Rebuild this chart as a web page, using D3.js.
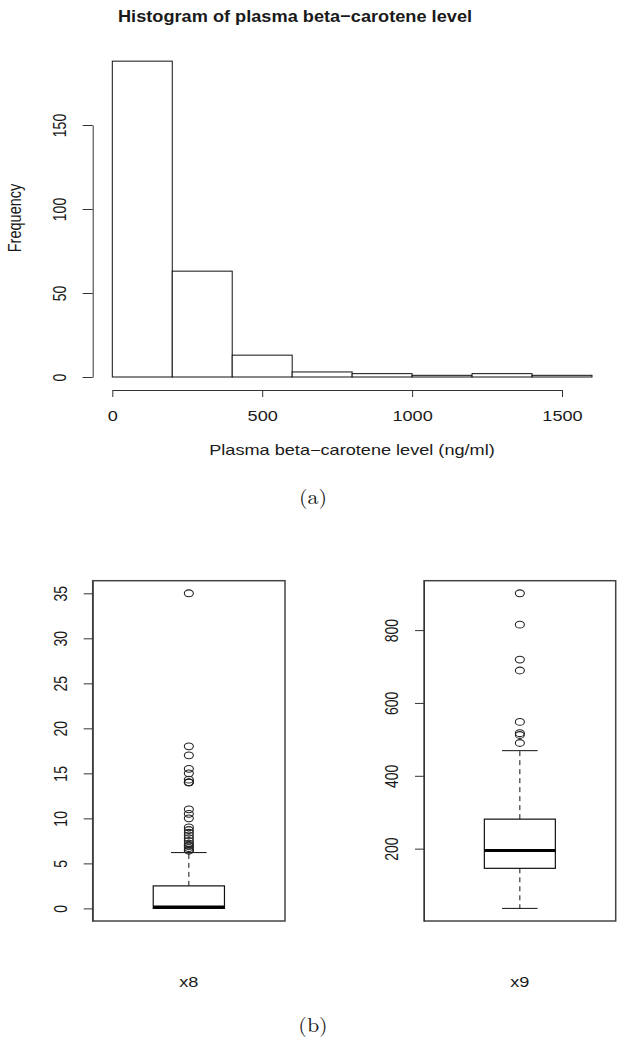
<!DOCTYPE html>
<html>
<head>
<meta charset="utf-8">
<script src="https://cdn.jsdelivr.net/npm/d3@7"></script>
<style>
  body { margin: 0; background: #fff; }
  svg text { font-family: "Liberation Sans", Arial, sans-serif; fill: #1a1a1a; }
</style>
</head>
<body>
<div id="chart"></div>
<script>
// histogram data (200 ng/ml bins)
const binEdges = [0, 200, 400, 600, 800, 1000, 1200, 1400, 1600];
const binCounts = [188, 63, 13, 3, 2, 1, 2, 1];
const histXTicks = [0, 500, 1000, 1500];
const histYTicks = [0, 50, 100, 150];

// boxplots: [lower whisker, Q1, median, Q3, upper whisker]
const boxNames = ["x8", "x9"];
const x8Box = [0, 0, 0.15, 2.5, 6.2];
const x8Outliers = [35, 18, 17, 15.5, 15, 14.3, 14, 14, 14, 11, 10.5, 10, 9, 8.7, 8.4, 8.1, 7.8, 7.5, 7.2, 7, 6.9, 6.7, 6.5, 6.4];
const x8Ticks = [0, 5, 10, 15, 20, 25, 30, 35];
const x9Box = [36, 146, 195, 281, 469];
const x9Outliers = [490, 512, 517, 548, 689, 719, 815, 901];
const x9Ticks = [200, 400, 600, 800];

const W = 627, H = 1047;
const SX = 1.25; // the picture is stretched horizontally, so is the text
const FS = 14.5;

const svg = d3.select("#chart").append("svg")
  .attr("width", W).attr("height", H);

function label(x, y, str, opts) {
  opts = opts || {};
  const t = svg.append("text")
    .attr("transform", `translate(${x},${y}) scale(${opts.sx || SX},1)` + (opts.rot ? " rotate(-90)" : ""))
    .attr("text-anchor", "middle")
    .style("font-size", (opts.size || FS) + "px")
    .text(str);
  if (opts.bold) t.style("font-weight", "bold");
  if (opts.serif) t.style("font-family", "'Latin Modern Roman', 'DejaVu Serif', 'Liberation Serif', serif");
  return t;
}

function styleLeftAxis(g, off) {
  g.select(".domain").attr("stroke", "#333");
  g.selectAll(".tick line").attr("stroke", "#333");
  g.selectAll(".tick text")
    .attr("x", null).attr("dy", null)
    .attr("text-anchor", "middle")
    .attr("transform", `translate(${off},0) scale(1.3,1) rotate(-90)`)
    .style("font-size", "14px");
}

// ---------- (a) histogram ----------
const hx = d3.scaleLinear().domain([0, 1500]).range([112.3, 562]);
const hy = d3.scaleLinear().domain([0, 150]).range([377, 125]);

svg.append("g").selectAll("rect")
  .data(binCounts)
  .join("rect")
  .attr("x", (d, i) => hx(binEdges[i]))
  .attr("width", (d, i) => hx(binEdges[i + 1]) - hx(binEdges[i]))
  .attr("y", d => hy(d))
  .attr("height", d => hy(0) - hy(d))
  .attr("fill", "#fff")
  .attr("stroke", "#111")
  .attr("stroke-width", 1);

const hxAxis = svg.append("g")
  .attr("transform", "translate(0,390)")
  .call(d3.axisBottom(hx).tickValues(histXTicks).tickFormat(d3.format("d")).tickSize(7).tickSizeOuter(0));
hxAxis.select(".domain").attr("stroke", "#333");
hxAxis.selectAll(".tick line").attr("stroke", "#333");
hxAxis.selectAll(".tick text")
  .attr("y", 31).attr("dy", null)
  .attr("transform", `scale(${SX},1)`)
  .style("font-size", FS + "px");

const hyAxis = svg.append("g")
  .attr("transform", "translate(92.7,0)")
  .call(d3.axisLeft(hy).tickValues(histYTicks).tickSize(10).tickSizeOuter(0));
styleLeftAxis(hyAxis, -27);

label(295, 22, "Histogram of plasma beta\u2212carotene level", { bold: true, size: 17, sx: 1.07 });
label(352, 455, "Plasma beta\u2212carotene level (ng/ml)");
label(20.5, 218, "Frequency", { rot: true });
label(313, 504, "(a)", { serif: true, size: 20, sx: 1.1 });

// ---------- (b) boxplots ----------
const frameTop = 580.7, frameBottom = 921;
const panels = [
  { name: boxNames[0], stats: x8Box, out: x8Outliers, ticks: x8Ticks, left: 92.7, right: 285 },
  { name: boxNames[1], stats: x9Box, out: x9Outliers, ticks: x9Ticks, left: 424, right: 615.7 }
];

panels.forEach(p => {
  const lo = d3.min([p.stats[0], ...p.out]), hi = d3.max([p.stats[4], ...p.out]);
  const pad = (hi - lo) * 0.04;
  const y = d3.scaleLinear().domain([lo - pad, hi + pad]).range([frameBottom, frameTop]);
  const x = d3.scaleLinear().domain([0.46, 1.54]).range([p.left, p.right]);
  const g = svg.append("g");

  // frame
  g.append("rect")
    .attr("x", p.left).attr("y", frameTop)
    .attr("width", p.right - p.left).attr("height", frameBottom - frameTop)
    .attr("fill", "none").attr("stroke", "#444").attr("stroke-width", 1.5);

  const [wLo, q1, med, q3, wHi] = p.stats;
  // whiskers
  g.append("line").attr("x1", x(1)).attr("x2", x(1)).attr("y1", y(q3)).attr("y2", y(wHi))
    .attr("stroke", "#111").attr("stroke-dasharray", "5,4");
  g.append("line").attr("x1", x(1)).attr("x2", x(1)).attr("y1", y(q1)).attr("y2", y(wLo))
    .attr("stroke", "#111").attr("stroke-dasharray", "5,4");
  [wLo, wHi].forEach(v => {
    g.append("line").attr("x1", x(0.9)).attr("x2", x(1.1)).attr("y1", y(v)).attr("y2", y(v))
      .attr("stroke", "#111");
  });
  // box
  g.append("rect")
    .attr("x", x(0.8)).attr("width", x(1.2) - x(0.8))
    .attr("y", y(q3)).attr("height", y(q1) - y(q3))
    .attr("fill", "#fff").attr("stroke", "#111").attr("stroke-width", 1.2);
  g.append("line").attr("x1", x(0.8)).attr("x2", x(1.2)).attr("y1", y(med)).attr("y2", y(med))
    .attr("stroke", "#000").attr("stroke-width", 3);

  // outliers
  g.selectAll("ellipse").data(p.out).join("ellipse")
    .attr("cx", x(1)).attr("cy", d => y(d))
    .attr("rx", 4.5).attr("ry", 3.4)
    .attr("fill", "none").attr("stroke", "#222").attr("stroke-width", 1.1);

  const ax = svg.append("g")
    .attr("transform", `translate(${p.left},0)`)
    .call(d3.axisLeft(y).tickValues(p.ticks).tickSize(9).tickSizeOuter(0));
  styleLeftAxis(ax, -26);

  label(x(1), 987, p.name);
});

label(313, 1032, "(b)", { serif: true, size: 20, sx: 1.1 });
</script>
</body>
</html>
